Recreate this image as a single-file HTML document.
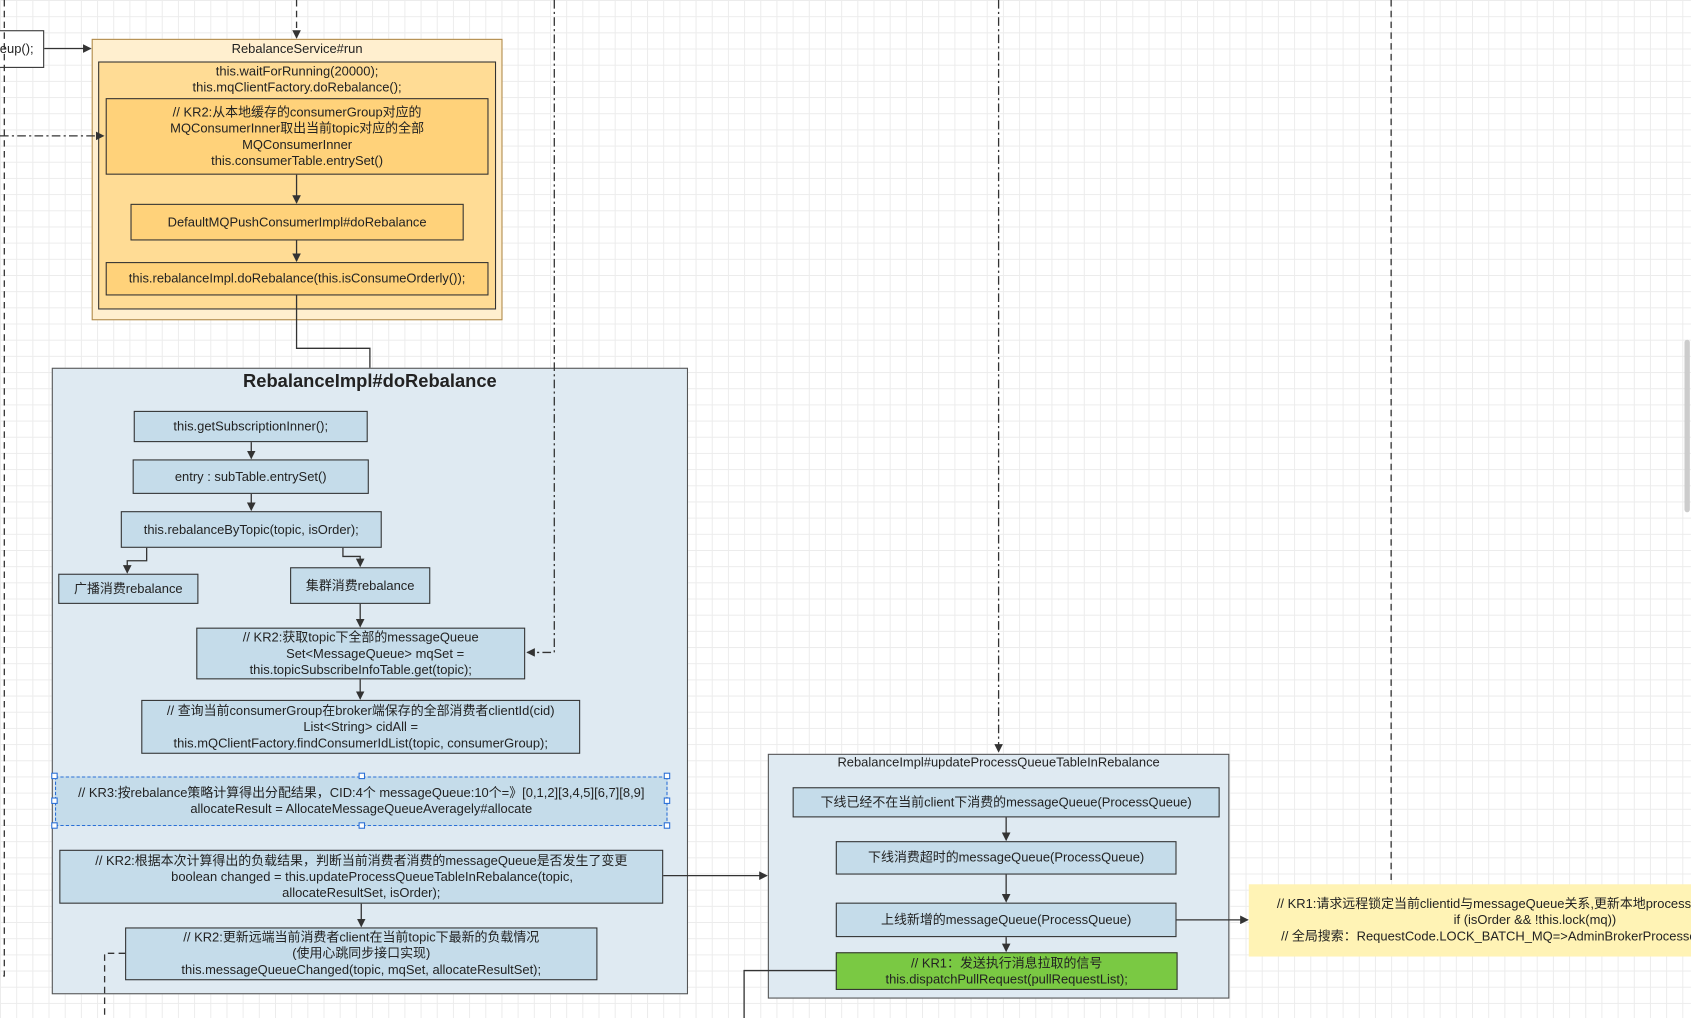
<!DOCTYPE html>
<html><head><meta charset="utf-8"><style>
html,body{margin:0;padding:0;width:1691px;height:1018px;overflow:hidden;background:#fff}
#w{position:absolute;left:0;top:0;width:1568px;height:944px;transform:scale(1.0784);transform-origin:0 0;
background-color:#fff;background-image:linear-gradient(#ececec 1px,transparent 1px),linear-gradient(90deg,#ececec 1px,transparent 1px);background-size:15px 15px;
font-family:"Liberation Sans","Noto Sans CJK SC",sans-serif;font-size:12px;color:#222}
.b{position:absolute;box-sizing:border-box;border:1px solid #333;display:flex;flex-direction:column;align-items:center;justify-content:center;text-align:center;line-height:15px;white-space:nowrap;overflow:hidden}
.bl{background:#c5dcea}
svg{position:absolute;left:0;top:0}
</style></head><body><div id="w">
<div class="b" style="left:-10px;top:28px;width:51px;height:35px;background:#fff">eup();</div>
<div class="b" style="left:85px;top:36px;width:381px;height:261px;background:#ffefcf;border-color:#b08a4a;justify-content:flex-start">
<div style="margin-top:1px">RebalanceService#run</div></div>
<div class="b" style="left:91px;top:57px;width:369px;height:230px;background:#ffdc95;justify-content:flex-start">
<div style="margin-top:1px">this.waitForRunning(20000);<br>this.mqClientFactory.doRebalance();</div></div>
<div class="b" style="left:98px;top:91px;width:355px;height:71px;background:#ffd27a">// KR2:从本地缓存的consumerGroup对应的<br>MQConsumerInner取出当前topic对应的全部<br>MQConsumerInner<br>this.consumerTable.entrySet()</div>
<div class="b" style="left:121px;top:189px;width:309px;height:34px;background:#ffd27a">DefaultMQPushConsumerImpl#doRebalance</div>
<div class="b" style="left:98px;top:243px;width:355px;height:31px;background:#ffd27a">this.rebalanceImpl.doRebalance(this.isConsumeOrderly());</div>

<div class="b" style="left:48px;top:341px;width:590px;height:581px;background:#dfeaf2;border-color:#555;justify-content:flex-start">
<div style="font-size:17px;margin-top:2px;line-height:20px;font-weight:bold">RebalanceImpl#doRebalance</div></div>
<div class="b bl" style="left:124px;top:381px;width:217px;height:29px">this.getSubscriptionInner();</div>
<div class="b bl" style="left:123px;top:426px;width:219px;height:32px">entry : subTable.entrySet()</div>
<div class="b bl" style="left:112px;top:474px;width:242px;height:34px">this.rebalanceByTopic(topic, isOrder);</div>
<div class="b bl" style="left:54px;top:532px;width:130px;height:28px">广播消费rebalance</div>
<div class="b bl" style="left:269px;top:526px;width:130px;height:34px">集群消费rebalance</div>
<div class="b bl" style="left:182px;top:582px;width:305px;height:48px">// KR2:获取topic下全部的messageQueue<br>&nbsp;&nbsp;&nbsp;&nbsp;&nbsp;&nbsp;&nbsp;&nbsp;Set&lt;MessageQueue&gt; mqSet =<br>this.topicSubscribeInfoTable.get(topic);</div>
<div class="b bl" style="left:131px;top:649px;width:407px;height:50px">// 查询当前consumerGroup在broker端保存的全部消费者clientId(cid)<br>List&lt;String&gt; cidAll =<br>this.mQClientFactory.findConsumerIdList(topic, consumerGroup);</div>
<div class="b bl" style="left:51px;top:720px;width:568px;height:46px;border:1px dashed #2a6fd6">// KR3:按rebalance策略计算得出分配结果，CID:4个 messageQueue:10个=》[0,1,2][3,4,5][6,7][8,9]<br>allocateResult = AllocateMessageQueueAveragely#allocate</div>
<div class="b bl" style="left:55px;top:788px;width:560px;height:50px">// KR2:根据本次计算得出的负载结果，判断当前消费者消费的messageQueue是否发生了变更<br>&nbsp;&nbsp;&nbsp;&nbsp;&nbsp;&nbsp;boolean changed = this.updateProcessQueueTableInRebalance(topic,<br>allocateResultSet, isOrder);</div>
<div class="b bl" style="left:116px;top:860px;width:438px;height:49px">// KR2:更新远端当前消费者client在当前topic下最新的负载情况<br>(使用心跳同步接口实现)<br>this.messageQueueChanged(topic, mqSet, allocateResultSet);</div>

<div class="b" style="left:712px;top:699px;width:428px;height:227px;background:#dfeaf2;border-color:#555;justify-content:flex-start">
<div style="margin-top:0px">RebalanceImpl#updateProcessQueueTableInRebalance</div></div>
<div class="b bl" style="left:735px;top:730px;width:396px;height:28px">下线已经不在当前client下消费的messageQueue(ProcessQueue)</div>
<div class="b bl" style="left:775px;top:780px;width:316px;height:31px">下线消费超时的messageQueue(ProcessQueue)</div>
<div class="b bl" style="left:775px;top:837px;width:316px;height:32px">上线新增的messageQueue(ProcessQueue)</div>
<div class="b" style="left:775px;top:883px;width:317px;height:35px;background:#7ac943">// KR1：发送执行消息拉取的信号<br>this.dispatchPullRequest(pullRequestList);</div>
<div class="b" style="left:1158px;top:820px;width:420px;height:67px;background:#fff3b5;border:none;align-items:flex-start;padding-left:26px;text-align:left">
<div>// KR1:请求远程锁定当前clientid与messageQueue关系,更新本地processQueue<br><span style="padding-left:164px">if (isOrder &amp;&amp; !this.lock(mq))</span><br><span style="padding-left:4px">// 全局搜索：RequestCode.LOCK_BATCH_MQ=&gt;AdminBrokerProcessor</span></div></div>
<div style="position:absolute;left:1562px;top:315px;width:5px;height:160px;background:#ccc;border-radius:3px"></div>

<svg width="1568" height="944" viewBox="0 0 1568 944">
<defs><marker id="a" markerWidth="8" markerHeight="8" refX="7" refY="4" orient="auto" markerUnits="userSpaceOnUse"><path d="M0,0 L8,4 L0,8 z" fill="#333"/></marker></defs>
<g fill="none" stroke="#333" stroke-width="1.2">
<path d="M41,45 H84" marker-end="url(#a)"/>
<path d="M4,0 V905 H0" stroke-dasharray="6,4"/>
<path d="M0,126 H96" stroke-dasharray="8,3,2,3" marker-end="url(#a)"/>
<path d="M275,0 V35" stroke-dasharray="6,4" marker-end="url(#a)"/>
<path d="M275,162 V188" marker-end="url(#a)"/>
<path d="M275,223 V242" marker-end="url(#a)"/>
<path d="M275,274 V323 H343 V341"/>
<path d="M233,410 V425" marker-end="url(#a)"/>
<path d="M233,458 V473" marker-end="url(#a)"/>
<path d="M136,508 V520 H118 V531" marker-end="url(#a)"/>
<path d="M318,508 V516 H334 V525" marker-end="url(#a)"/>
<path d="M334,560 V581" marker-end="url(#a)"/>
<path d="M334,630 V648" marker-end="url(#a)"/>
<path d="M335,838 V859" marker-end="url(#a)"/>
<path d="M514,0 V605 H489" stroke-dasharray="8,3,2,3" marker-end="url(#a)"/>
<path d="M615,812 H711" marker-end="url(#a)"/>
<path d="M926,0 V697" stroke-dasharray="8,3,2,3" marker-end="url(#a)"/>
<path d="M1290,0 V820" stroke-dasharray="6,4"/>
<path d="M933,758 V779" marker-end="url(#a)"/>
<path d="M933,811 V836" marker-end="url(#a)"/>
<path d="M933,869 V882" marker-end="url(#a)"/>
<path d="M1091,853 H1157" marker-end="url(#a)"/>
<path d="M775,900 H690 V944"/>
<path d="M116,884 H97 V944" stroke-dasharray="6,4"/>
</g>
<g fill="#fff" stroke="#2a6fd6" stroke-width="1">
<rect x="48" y="717" width="5" height="5"/><rect x="333" y="717" width="5" height="5"/><rect x="616" y="717" width="5" height="5"/>
<rect x="48" y="740" width="5" height="5"/><rect x="616" y="740" width="5" height="5"/>
<rect x="48" y="763" width="5" height="5"/><rect x="333" y="763" width="5" height="5"/><rect x="616" y="763" width="5" height="5"/>
</g>
</svg>
</div></body></html>
